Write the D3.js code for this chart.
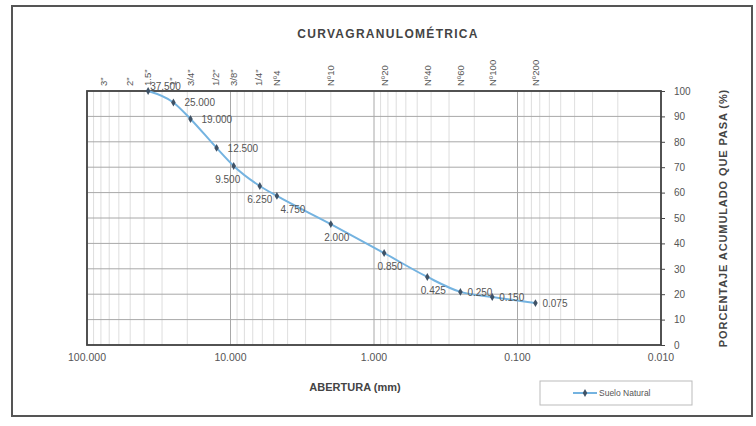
<!DOCTYPE html>
<html>
<head>
<meta charset="utf-8">
<script src="https://cdn.jsdelivr.net/npm/d3@7/dist/d3.min.js"></script>
<style>
  body { margin: 0; background: #fff; }
  svg { font-family: 'Liberation Sans', Arial, sans-serif; }
</style>
</head>
<body>
<svg id="chart" width="756" height="426"></svg>
<script>
// sieve openings (mm) and cumulative % passing
var aberturas = [37.5, 25.0, 19.0, 12.5, 9.5, 6.25, 4.75, 2.0, 0.85, 0.425, 0.25, 0.15, 0.075]
var pasa = [100, 95.5, 89, 77.6, 70.5, 62.6, 58.7, 47.6, 36.2, 26.8, 20.9, 18.9, 16.5]
// where each data label sits relative to its point
var labelPos = ['t', 'r', 'r', 'r', 'bl', 'b0', 'br', 'b', 'b', 'b', 'r2', 'r2', 'r2']

// sieve names along the top
var tamices = ['3"', '2"', '1.5"', '1"', '3/4"', '1/2"', '3/8"', '1/4"', 'Nº4', 'Nº10', 'Nº20', 'Nº40', 'Nº60', 'Nº100', 'Nº200']
var tamizMm = [76.2, 50.8, 38.1, 25.4, 19.05, 12.7, 9.525, 6.35, 4.76, 2.0, 0.85, 0.425, 0.25, 0.15, 0.075]

var xTicks = [100, 10, 1, 0.1, 0.01]
var yTicks = [0, 10, 20, 30, 40, 50, 60, 70, 80, 90, 100]

var plotLeft = 87, plotRight = 661, plotTop = 91, plotBottom = 345
var textCol = '#555'

var svg = d3.select('#chart')

// outer frame
svg.append('rect')
	.attr('x', 12).attr('y', 6)
	.attr('width', 740).attr('height', 410)
	.attr('fill', 'none').attr('stroke', '#555').attr('stroke-width', 2)

var x = d3.scaleLog().domain([100, 0.01]).range([plotLeft, plotRight])
var y = d3.scaleLinear().domain([0, 100]).range([plotBottom, plotTop])

var grid = svg.append('g')

// minor vertical grid (2..9 of each decade)
var minor = []
for (var p = -2; p < 2; p++) {
	for (var k = 2; k <= 9; k++) minor.push(k * Math.pow(10, p))
}
grid.selectAll('.minor')
	.data(minor)
	.join('line')
	.attr('class', 'minor')
	.attr('x1', (d) => x(d)).attr('x2', (d) => x(d))
	.attr('y1', plotTop).attr('y2', plotBottom)
	.attr('stroke', '#d6d6d6').attr('stroke-width', 0.8)

grid.selectAll('.major')
	.data(xTicks)
	.join('line')
	.attr('class', 'major')
	.attr('x1', (d) => x(d)).attr('x2', (d) => x(d))
	.attr('y1', plotTop).attr('y2', plotBottom)
	.attr('stroke', '#a8a8a8').attr('stroke-width', 1)

grid.selectAll('.hgrid')
	.data(yTicks)
	.join('line')
	.attr('class', 'hgrid')
	.attr('x1', plotLeft).attr('x2', plotRight)
	.attr('y1', (d) => y(d)).attr('y2', (d) => y(d))
	.attr('stroke', '#a8a8a8').attr('stroke-width', 1)

// plot border
svg.append('rect')
	.attr('x', plotLeft).attr('y', plotTop)
	.attr('width', plotRight - plotLeft).attr('height', plotBottom - plotTop)
	.attr('fill', 'none').attr('stroke', '#444').attr('stroke-width', 1.8)

// right axis
var yAxis = svg.append('g')
	.attr('transform', 'translate(' + plotRight + ',0)')
	.call(d3.axisRight(y).tickValues(yTicks).tickSize(4).tickPadding(9))
yAxis.select('.domain').remove()
yAxis.selectAll('line').attr('stroke', '#444')
yAxis.selectAll('text').attr('fill', textCol).style('font-size', '10px')

// bottom labels
svg.selectAll('.xlab')
	.data(xTicks)
	.join('text')
	.attr('class', 'xlab')
	.attr('x', (d) => x(d))
	.attr('y', 361)
	.attr('text-anchor', 'middle')
	.attr('fill', textCol)
	.style('font-size', '10.5px')
	.text((d) => d3.format('.3f')(d))

// sieve labels at top
svg.selectAll('.tamiz')
	.data(tamices)
	.join('text')
	.attr('class', 'tamiz')
	.attr('transform', (d, i) => 'translate(' + (x(tamizMm[i]) + 3.5) + ',86) rotate(-90)')
	.attr('fill', textCol)
	.style('font-size', '9.5px')
	.text((d) => d)

// curve
var pts = aberturas.map((d, i) => [x(d), y(pasa[i])])
svg.append('path')
	.attr('d', d3.line().curve(d3.curveMonotoneX)(pts))
	.attr('fill', 'none')
	.attr('stroke', '#74b3e0')
	.attr('stroke-width', 2)

svg.selectAll('.pt')
	.data(aberturas)
	.join('path')
	.attr('class', 'pt')
	.attr('d', d3.symbol().type(d3.symbolDiamond).size(18))
	.attr('transform', (d, i) => 'translate(' + x(d) + ',' + y(pasa[i]) + ')')
	.attr('fill', '#3f5266')

// data labels
var dx = { t: 2, r: 11, r2: 7, bl: -6, b0: 0, br: 16, b: 6 }
svg.selectAll('.dlab')
	.data(aberturas)
	.join('text')
	.attr('class', 'dlab')
	.attr('x', (d, i) => x(d) + dx[labelPos[i]])
	.attr('y', (d, i) => {
		var p = labelPos[i]
		if (p === 't') return y(pasa[i]) - 1
		if (p === 'r' || p === 'r2') return y(pasa[i]) + 4
		return y(pasa[i]) + 17
	})
	.attr('text-anchor', (d, i) => (labelPos[i][0] === 'b' ? 'middle' : 'start'))
	.attr('fill', textCol)
	.style('font-size', '10px')
	.text((d) => d3.format('.3f')(d))

// titles
svg.append('text')
	.attr('x', 388).attr('y', 38)
	.attr('text-anchor', 'middle')
	.attr('fill', '#444')
	.style('font-size', '12px').style('font-weight', 'bold').style('letter-spacing', '1.3px')
	.text('CURVAGRANULOMÉTRICA')

svg.append('text')
	.attr('x', 355).attr('y', 391)
	.attr('text-anchor', 'middle')
	.attr('fill', '#444')
	.style('font-size', '11px').style('font-weight', 'bold')
	.text('ABERTURA (mm)')

svg.append('text')
	.attr('transform', 'translate(727,' + (plotTop + plotBottom) / 2 + ') rotate(-90)')
	.attr('text-anchor', 'middle')
	.attr('fill', '#444')
	.style('font-size', '11px').style('font-weight', 'bold').style('letter-spacing', '0.9px')
	.text('PORCENTAJE ACUMULADO QUE PASA (%)')

// legend
var lg = svg.append('g').attr('transform', 'translate(540,381)')
lg.append('rect')
	.attr('width', 152).attr('height', 24)
	.attr('fill', '#fff').attr('stroke', '#bbb')
lg.append('line')
	.attr('x1', 33).attr('x2', 57).attr('y1', 12).attr('y2', 12)
	.attr('stroke', '#74b3e0').attr('stroke-width', 2)
lg.append('path')
	.attr('d', d3.symbol().type(d3.symbolDiamond).size(18))
	.attr('transform', 'translate(45,12)')
	.attr('fill', '#3f5266')
lg.append('text')
	.attr('x', 59).attr('y', 15)
	.attr('fill', textCol)
	.style('font-size', '8.5px')
	.text('Suelo Natural')
</script>
</body>
</html>
